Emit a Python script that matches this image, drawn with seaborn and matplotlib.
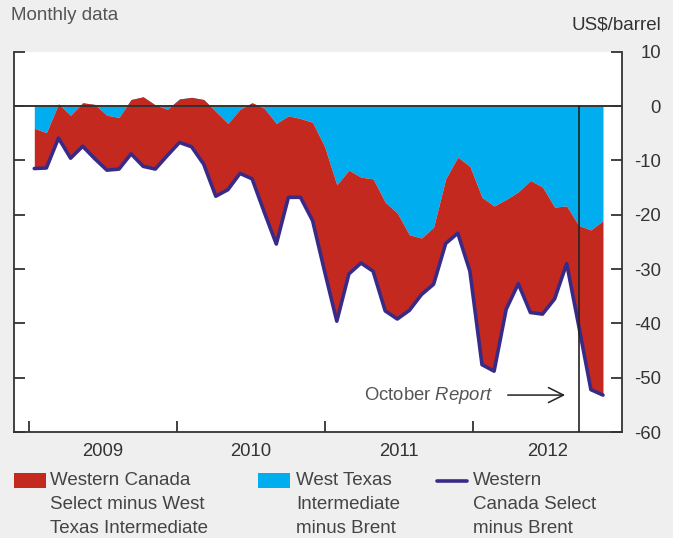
import numpy as np
import matplotlib
matplotlib.use("Agg")
import matplotlib.pyplot as plt
import seaborn as sns
from matplotlib.patches import Rectangle
from matplotlib.lines import Line2D

# monthly data, Jan 2009 - Dec 2012 (US$/barrel)
months = np.arange(48)

wti_minus_brent = [
    -4.1, -4.9, 0.4, -1.7, 0.6, 0.3, -1.7, -2.1, 1.2, 1.7, 0.2, -0.6,
    1.3, 1.6, 1.2, -1.0, -3.2, -0.6, 0.6, -0.4, -3.2, -1.8, -2.3, -3.0,
    -7.5, -14.5, -11.8, -13.1, -13.4, -17.7, -19.7, -23.7, -24.3, -22.3, -13.4, -9.4,
    -11.1, -16.8, -18.4, -17.2, -15.8, -13.7, -14.9, -18.6, -18.4, -22.0, -22.8, -21.1,
]
wcs_minus_brent = [
    -11.5, -11.4, -5.9, -9.6, -7.4, -9.7, -11.8, -11.6, -8.8, -11.1, -11.6, -9.1,
    -6.7, -7.5, -10.7, -16.6, -15.4, -12.4, -13.4, -19.5, -25.4, -16.8, -16.8, -21.1,
    -30.5, -39.6, -30.9, -28.9, -30.4, -37.7, -39.2, -37.6, -34.7, -32.8, -25.3, -23.4,
    -30.4, -47.6, -48.8, -37.4, -32.7, -38.0, -38.3, -35.5, -29.0, -40.5, -52.2, -53.2,
]

years = ["2009", "2010", "2011", "2012"]
year_ticks = [-0.44, 11.79, 24.02, 36.26]
year_label_pos = [5.67, 17.9, 30.14, 42.38]
report_month = 45  # October 2012

labels = [
    "Western Canada\nSelect minus West\nTexas Intermediate",
    "West Texas\nIntermediate\nminus Brent",
    "Western\nCanada Select\nminus Brent",
]
red = "#C4291F"
blue = "#00AEEF"
purple = "#3A2A88"
ink = "#333333"

sns.set_theme(style="white")
plt.rcParams["font.family"] = ["Liberation Sans", "DejaVu Sans"]
plt.rcParams["axes.unicode_minus"] = False
plt.rcParams["mathtext.fontset"] = "custom"
plt.rcParams["mathtext.it"] = "Liberation Sans:italic"
plt.rcParams["mathtext.rm"] = "Liberation Sans"

fig = plt.figure(figsize=(6.73, 5.38), dpi=100, facecolor="#EFEFEF")
ax = fig.add_axes([0.0204, 0.197, 0.9038, 0.7069])
ax.set_facecolor("white")

wti = np.array(wti_minus_brent)
wcs = np.array(wcs_minus_brent)
ax.fill_between(months, 0, wti, color=blue, lw=0, zorder=1)
ax.fill_between(months, wti, wcs, color=red, lw=0, zorder=2)
sns.lineplot(x=months, y=wcs, color=purple, lw=2.6, ax=ax, zorder=3)

ax.axhline(0, color=ink, lw=1.4, zorder=4)
ax.plot([report_month, report_month], [0, -60], color="#222222", lw=1.2, zorder=5)

ax.text(37.95, -53.2, "October $\\it{Report}$", ha="right", va="center",
        fontsize=13.3, color="#555555")
ax.annotate("", xy=(44.1, -53.2), xytext=(38.9, -53.2),
            arrowprops=dict(arrowstyle="->,head_length=0.9,head_width=0.45",
                            color="#222222", lw=1.1))

ax.set_xlim(-1.70, 48.57)
ax.set_ylim(-60, 10)
ax.set_yticks(np.arange(-60, 11, 10))
ax.set_xticks(year_ticks)
ax.set_xticklabels([])
ax.set_xticks(year_label_pos, minor=True)
ax.set_xticklabels(years, minor=True)
ax.tick_params(axis="x", which="major", direction="in", length=8, width=1.3,
               color=ink, bottom=True, top=False)
ax.tick_params(axis="x", which="minor", length=0, pad=8, labelsize=13.3, labelcolor=ink)
ax.tick_params(axis="y", direction="in", length=8, width=1.3, color=ink,
               left=True, right=True, labelleft=False, labelright=True,
               pad=28, labelsize=13.3, labelcolor=ink)
for t in ax.get_yticklabels():
    t.set_horizontalalignment("right")

for side in ["left", "right", "bottom"]:
    ax.spines[side].set_visible(True)
    ax.spines[side].set_color(ink)
    ax.spines[side].set_linewidth(1.3)
ax.spines["top"].set_visible(False)
ax.set_xlabel("")
ax.set_ylabel("")

fig.text(0.0163, 0.972, "Monthly data", ha="left", va="center", fontsize=13.5, color="#555555")
fig.text(0.982, 0.954, "US$/barrel", ha="right", va="center", fontsize=13.5, color=ink)

# legend drawn under the axes, handle next to the first line of each label
fig.add_artist(Rectangle((0.0208, 0.0929), 0.0475, 0.0279, transform=fig.transFigure,
                         facecolor=red, edgecolor="none"))
fig.add_artist(Rectangle((0.3834, 0.0929), 0.0475, 0.0279, transform=fig.transFigure,
                         facecolor=blue, edgecolor="none"))
fig.add_artist(Line2D([0.6493, 0.6939], [0.1065, 0.1065], transform=fig.transFigure,
                      color=purple, lw=2.6))
for xpos, lab in zip([0.0743, 0.4398, 0.7028], labels):
    fig.text(xpos, 0.1225, lab, ha="left", va="top", fontsize=13.5,
             color="#444444", linespacing=1.55)

fig.savefig("out.png", dpi=100, facecolor=fig.get_facecolor())
